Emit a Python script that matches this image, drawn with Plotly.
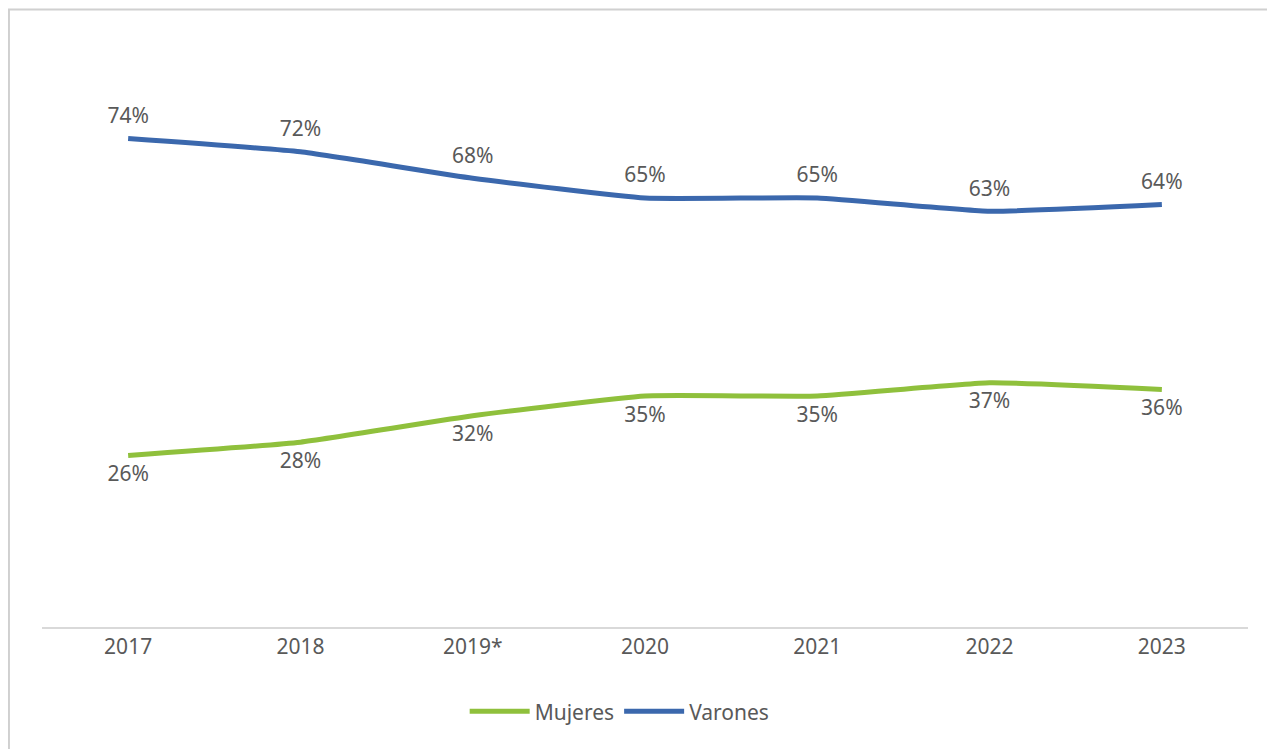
import plotly.graph_objects as go

YEARS = ["2017", "2018", "2019*", "2020", "2021", "2022", "2023"]
MUJERES = [0.26, 0.28, 0.32, 0.35, 0.35, 0.37, 0.36]
VARONES = [0.74, 0.72, 0.68, 0.65, 0.65, 0.63, 0.64]

GREEN = "#8fc03c"
BLUE = "#3b68ad"
TEXT = "#595959"
FONT = "Noto Sans"


def pct(values):
    return [f"{round(v * 100)}%" for v in values]


fig = go.Figure()
fig.add_trace(
    go.Scatter(
        x=YEARS,
        y=MUJERES,
        name="Mujeres",
        mode="lines+markers+text",
        line=dict(color=GREEN, width=5, shape="spline", smoothing=0.4),
        marker=dict(size=14, color="rgba(0,0,0,0)"),
        text=pct(MUJERES),
        textposition="bottom center",
        textfont=dict(family=FONT, size=21, color=TEXT),
        hoverinfo="skip",
    )
)
fig.add_trace(
    go.Scatter(
        x=YEARS,
        y=VARONES,
        name="Varones",
        mode="lines+markers+text",
        line=dict(color=BLUE, width=5, shape="spline", smoothing=0.4),
        marker=dict(size=15, color="rgba(0,0,0,0)"),
        text=pct(VARONES),
        textposition="top center",
        textfont=dict(family=FONT, size=21, color=TEXT),
        hoverinfo="skip",
    )
)

# chart frame (cropped on the right and bottom like the reference)
fig.add_shape(
    type="rect",
    xref="paper",
    yref="paper",
    x0=-0.0274,
    x1=1.05,
    y0=-0.4,
    y1=1.0397,
    line=dict(color="#d0d0d0", width=2),
    layer="below",
)

fig.update_layout(
    width=1267,
    height=741,
    margin=dict(l=34, r=27, t=25, b=122),
    paper_bgcolor="white",
    plot_bgcolor="white",
    font=dict(family=FONT, size=21, color=TEXT),
    showlegend=True,
    legend=dict(
        orientation="h",
        x=0.479,
        xanchor="center",
        y=-0.108,
        yanchor="top",
        font=dict(family=FONT, size=21, color=TEXT),
        itemwidth=60,
    ),
)
fig.update_xaxes(
    type="category",
    range=[-0.5, 6.5],
    showgrid=False,
    showline=True,
    linecolor="#d9d9d9",
    linewidth=2,
    ticks="",
    tickfont=dict(family=FONT, size=21, color=TEXT),
    zeroline=False,
)
fig.update_yaxes(
    range=[0, 0.9],
    visible=False,
    showgrid=False,
    zeroline=False,
)

fig.write_html("out.html")
